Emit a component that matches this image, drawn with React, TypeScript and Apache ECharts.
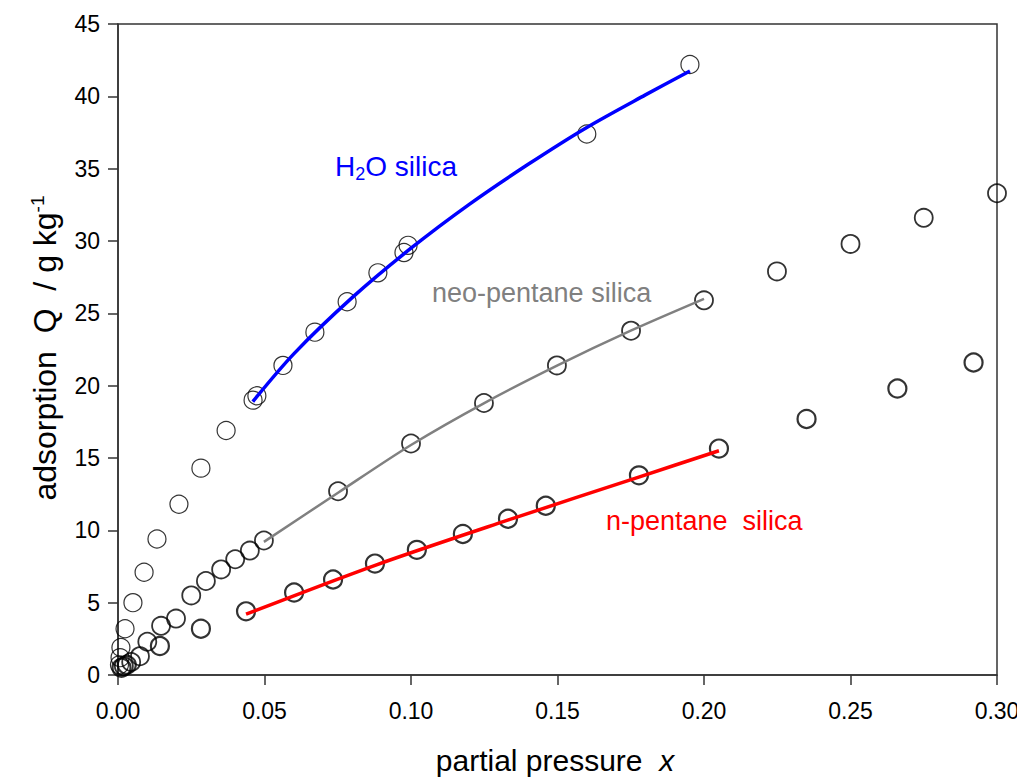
import React, { useEffect, useRef } from "react";
import * as echarts from "echarts";

const h2oX = [0.0005, 0.0007, 0.001, 0.0024, 0.0051, 0.0089, 0.0133, 0.0208, 0.0283, 0.0369, 0.0461, 0.0474, 0.0563, 0.0672, 0.0782, 0.0887, 0.0976, 0.099, 0.16, 0.1952];
const h2oY = [0.7, 1.2, 1.9, 3.2, 5.0, 7.1, 9.4, 11.8, 14.3, 16.9, 19.0, 19.3, 21.4, 23.7, 25.8, 27.8, 29.2, 29.7, 37.4, 42.2];

const neoX = [0.002, 0.0045, 0.0075, 0.01, 0.0147, 0.0198, 0.025, 0.03, 0.0352, 0.04, 0.045, 0.0498, 0.0751, 0.1, 0.1249, 0.1498, 0.1751, 0.2, 0.2249, 0.25, 0.275, 0.3];
const neoY = [0.6, 0.9, 1.3, 2.3, 3.4, 3.9, 5.5, 6.5, 7.3, 8.0, 8.6, 9.3, 12.7, 16.0, 18.8, 21.4, 23.8, 25.9, 27.9, 29.8, 31.6, 33.3];

const npX = [0.0012, 0.003, 0.0143, 0.0283, 0.0437, 0.0601, 0.0734, 0.0877, 0.102, 0.1177, 0.1331, 0.146, 0.1778, 0.2051, 0.235, 0.266, 0.292];
const npY = [0.5, 0.7, 2.0, 3.2, 4.4, 5.7, 6.6, 7.7, 8.65, 9.75, 10.8, 11.7, 13.8, 15.65, 17.7, 19.8, 21.6];

const h2oFitX = [0.046, 0.06, 0.08, 0.1, 0.12, 0.14, 0.16, 0.18, 0.1952];
const h2oFitY = [18.9, 22.2, 26.1, 29.5, 32.55, 35.3, 37.85, 40.1, 41.75];

const neoFitX = [0.0498, 0.0751, 0.1, 0.125, 0.15, 0.175, 0.2];
const neoFitY = [9.2, 12.6, 15.9, 18.8, 21.4, 23.8, 26.0];

const npFitX = [0.0437, 0.088, 0.133, 0.178, 0.2051];
const npFitY = [4.2, 7.6, 10.7, 13.7, 15.5];

const zip = (xs: number[], ys: number[]) => xs.map((x, i) => [x, ys[i]]);

const FONT = "'Liberation Sans', Arial, sans-serif";

const scatter = (data: number[][], bw: number) => ({
  type: "scatter",
  data,
  symbol: "circle",
  symbolSize: 18,
  itemStyle: { color: "rgba(0,0,0,0)", borderColor: "#000", borderWidth: bw },
  z: 2,
});

const fit = (data: number[][], color: string, width: number) => ({
  type: "line",
  data,
  smooth: 0.3,
  showSymbol: false,
  lineStyle: { color, width },
  z: 5,
});

export default function App() {
  const ref = useRef<HTMLDivElement>(null);
  useEffect(() => {
    if (!ref.current) return;
    const chart = echarts.init(ref.current, undefined, { renderer: "svg" });
    chart.setOption({
      animation: false,
      backgroundColor: "#ffffff",
      textStyle: { fontFamily: FONT },
      grid: {
        left: 118,
        right: 28,
        top: 24,
        bottom: 105,
        show: true,
        borderColor: "#333",
        borderWidth: 1.5,
        backgroundColor: "transparent",
      },
      xAxis: {
        type: "value",
        min: 0,
        max: 0.3,
        interval: 0.05,
        axisLine: { show: true, onZero: false, lineStyle: { color: "#333", width: 1.5 } },
        axisTick: { show: true, length: 10, lineStyle: { color: "#333", width: 1.5 } },
        splitLine: { show: false },
        axisLabel: {
          margin: 24,
          fontSize: 23,
          color: "#000",
          fontFamily: FONT,
          formatter: (v: number) => v.toFixed(2),
        },
      },
      yAxis: {
        type: "value",
        min: 0,
        max: 45,
        interval: 5,
        axisLine: { show: true, onZero: false, lineStyle: { color: "#333", width: 1.5 } },
        axisTick: { show: true, length: 10, lineStyle: { color: "#333", width: 1.5 } },
        splitLine: { show: false },
        axisLabel: { margin: 18, fontSize: 23, color: "#000", fontFamily: FONT },
      },
      series: [
        scatter(zip(h2oX, h2oY), 1.2),
        scatter(zip(neoX, neoY), 1.8),
        scatter(zip(npX, npY), 2.2),
        fit(zip(h2oFitX, h2oFitY), "#0000ff", 3.5),
        fit(zip(neoFitX, neoFitY), "#808080", 2.5),
        fit(zip(npFitX, npFitY), "#ff0000", 3.5),
      ],
      graphic: [
        {
          type: "text",
          left: 335,
          top: 149,
          style: {
            text: "{a|H}{s|2}{a|O silica}",
            fill: "#0000ff",
            font: `28px ${FONT}`,
            rich: {
              a: { fontSize: 28, fontFamily: FONT, fill: "#0000ff", lineHeight: 34 },
              s: { fontSize: 18, fontFamily: FONT, fill: "#0000ff", lineHeight: 34, padding: [16, 0, 0, 0] },
            },
          },
        },
        {
          type: "text",
          x: 432,
          y: 293,
          style: { text: "neo-pentane silica", fill: "#808080", font: `27px ${FONT}`, verticalAlign: "middle" },
        },
        {
          type: "text",
          x: 606,
          y: 521,
          style: { text: "n-pentane  silica", fill: "#ff0000", font: `27px ${FONT}`, verticalAlign: "middle" },
        },
        {
          type: "text",
          x: 555,
          y: 760,
          style: {
            text: "{n|partial pressure  }{i|x}",
            align: "center",
            verticalAlign: "middle",
            rich: {
              n: { fontSize: 30, fontFamily: FONT, fill: "#000", lineHeight: 34 },
              i: { fontSize: 30, fontFamily: FONT, fill: "#000", fontStyle: "italic", lineHeight: 34 },
            },
          },
        },
        {
          type: "text",
          x: 45,
          y: 348,
          rotation: Math.PI / 2,
          style: {
            text: "{n|adsorption  Q  / g kg}{s|-1}",
            align: "center",
            verticalAlign: "middle",
            rich: {
              n: { fontSize: 32, fontFamily: FONT, fill: "#000", lineHeight: 38 },
              s: { fontSize: 19, fontFamily: FONT, fill: "#000", lineHeight: 38, padding: [0, 0, 16, 0] },
            },
          },
        },
      ],
    });
    return () => chart.dispose();
  }, []);
  return <div ref={ref} style={{ width: 1025, height: 780, marginLeft: -8, marginTop: -8 }} />;
}
